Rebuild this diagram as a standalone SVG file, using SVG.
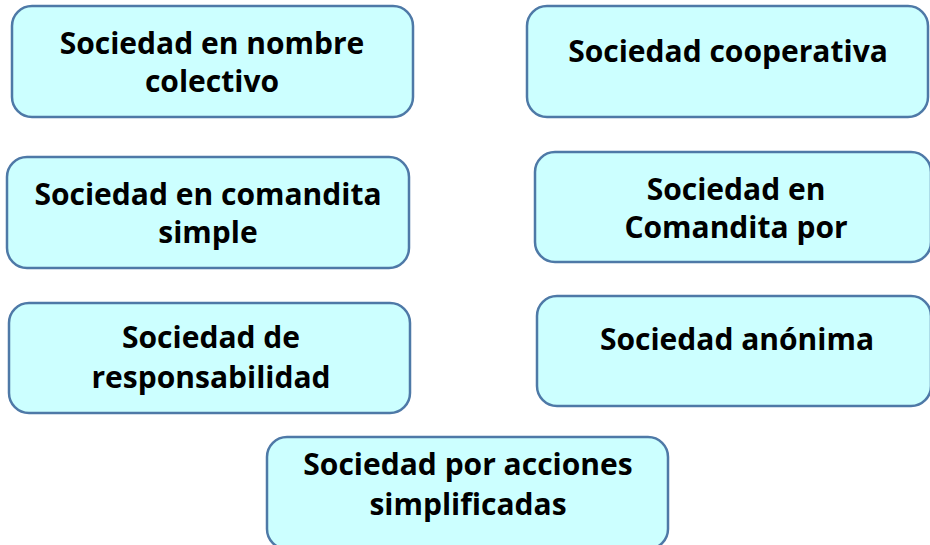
<svg xmlns="http://www.w3.org/2000/svg" width="930" height="545" viewBox="0 0 930 545">
<style>
.box{fill:#CCFFFF;stroke:#4E79A7;stroke-width:2.5}
.t{font-family:"Open Sans",Lato,"Liberation Sans",sans-serif;font-weight:700;font-size:30px;fill:#000;text-anchor:middle}
</style>
<rect width="930" height="545" fill="#fff"/>
<g id="connectors"></g>
<g id="n1"><rect class="box" x="12" y="6" width="401" height="111" rx="20"/><text class="t" x="212" y="54">Sociedad en nombre</text><text class="t" x="212" y="92">colectivo</text></g>
<g id="n2"><rect class="box" x="527" y="6" width="401" height="111" rx="20"/><text class="t" x="728" y="62">Sociedad cooperativa</text></g>
<g id="n3"><rect class="box" x="7" y="157" width="402" height="111" rx="20"/><text class="t" x="208" y="205">Sociedad en comandita</text><text class="t" x="208" y="243">simple</text></g>
<g id="n4"><rect class="box" x="535" y="152" width="396" height="110" rx="20"/><text class="t" x="736" y="200">Sociedad en</text><text class="t" x="736" y="238">Comandita por</text></g>
<g id="n5"><rect class="box" x="9" y="303" width="401" height="110" rx="20"/><text class="t" x="211" y="348">Sociedad de</text><text class="t" x="211" y="388">responsabilidad</text></g>
<g id="n6"><rect class="box" x="537" y="296" width="394" height="110" rx="20"/><text class="t" x="737" y="350">Sociedad anónima</text></g>
<g id="n7"><rect class="box" x="267" y="437" width="401" height="112" rx="20"/><text class="t" x="468" y="475">Sociedad por acciones</text><text class="t" x="468" y="515">simplificadas</text></g>
</svg>
